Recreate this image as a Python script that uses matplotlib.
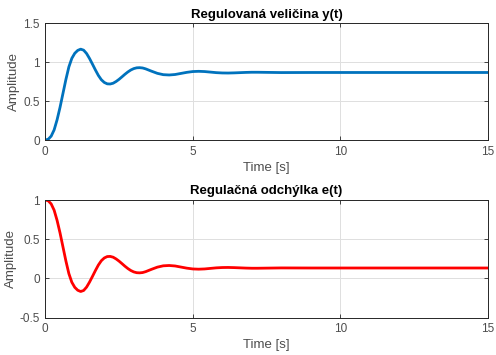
"""
Step response of the control loop: controlled variable y(t) and control error e(t).
"""

import matplotlib
matplotlib.use('Agg')
import matplotlib.pyplot as plt

# time axis [s]
time_s = [0.0, 0.1, 0.2, 0.3, 0.4, 0.5, 0.6, 0.7, 0.8, 0.9,
          1.0, 1.1, 1.2, 1.3, 1.4, 1.5, 1.6, 1.7, 1.8, 1.9,
          2.0, 2.1, 2.2, 2.3, 2.4, 2.5, 2.6, 2.7, 2.8, 2.9,
          3.0, 3.1, 3.2, 3.3, 3.4, 3.6, 3.8, 4.0, 4.2, 4.4,
          4.6, 4.8, 5.0, 5.2, 5.4, 5.6, 5.8, 6.0, 6.2, 6.4,
          6.6, 6.8, 7.0, 7.2, 7.6, 8.0, 9.0, 10.0, 12.0, 15.0]

# controlled variable y(t)
y_vals = [0.000, 0.010, 0.050, 0.130, 0.260, 0.420, 0.600, 0.780, 0.940, 1.050,
          1.115, 1.152, 1.168, 1.155, 1.112, 1.048, 0.975, 0.900, 0.830, 0.775,
          0.740, 0.722, 0.720, 0.730, 0.752, 0.780, 0.812, 0.845, 0.875, 0.900,
          0.918, 0.928, 0.930, 0.926, 0.915, 0.885, 0.857, 0.840, 0.836, 0.842,
          0.856, 0.870, 0.880, 0.883, 0.880, 0.873, 0.866, 0.862, 0.861, 0.863,
          0.866, 0.869, 0.871, 0.871, 0.869, 0.867, 0.868, 0.868, 0.868, 0.868]

# control error e(t)
e_vals = [1.000, 0.990, 0.950, 0.870, 0.740, 0.580, 0.400, 0.220, 0.060, -0.050,
          -0.115, -0.152, -0.168, -0.155, -0.112, -0.048, 0.025, 0.100, 0.170, 0.225,
          0.260, 0.278, 0.280, 0.270, 0.248, 0.220, 0.188, 0.155, 0.125, 0.100,
          0.082, 0.072, 0.070, 0.074, 0.085, 0.115, 0.143, 0.160, 0.164, 0.158,
          0.144, 0.130, 0.120, 0.117, 0.120, 0.127, 0.134, 0.138, 0.139, 0.137,
          0.134, 0.131, 0.129, 0.129, 0.131, 0.133, 0.132, 0.132, 0.132, 0.132]

x_ticks = [0, 5, 10, 15]
y_ticks_top = [0, 0.5, 1, 1.5]
y_ticks_bottom = [-0.5, 0, 0.5, 1]

plt.rcParams['font.family'] = ['Liberation Sans', 'DejaVu Sans']

AX_COLOR = '#262626'
TICK_COLOR = '#4d4d4d'


def style_axes(ax, yticks, ylim):
    ax.set_xlim(0, 15)
    ax.set_ylim(*ylim)
    ax.set_xticks(x_ticks)
    ax.set_yticks(yticks)
    ax.set_xticklabels([f'{v:g}' for v in x_ticks])
    ax.set_yticklabels([f'{v:g}' for v in yticks])
    ax.grid(True, color='#dfdfdf', linewidth=0.7)
    ax.set_axisbelow(True)
    ax.tick_params(direction='in', length=3, width=0.6, top=True, right=True,
                   labelsize=8.5, colors=AX_COLOR, labelcolor=TICK_COLOR, pad=4)
    for sp in ax.spines.values():
        sp.set_color(AX_COLOR)
        sp.set_linewidth(0.7)
    ax.set_xlabel('Time [s]', fontsize=9.5, color=TICK_COLOR, labelpad=3)
    ax.set_ylabel('Amplitude', fontsize=9.5, color=TICK_COLOR, labelpad=2)


fig = plt.figure(figsize=(4.96, 3.55), dpi=100)
ax1 = fig.add_axes([0.0913, 0.6056, 0.892, 0.3287])
ax2 = fig.add_axes([0.0913, 0.1056, 0.892, 0.3310])

ax1.plot(time_s, y_vals, color='#0072BD', linewidth=2.0)
style_axes(ax1, y_ticks_top, (0, 1.5))
ax1.set_title('Regulovaná veličina y(t)', fontsize=9.5, fontweight='bold', pad=4)

ax2.plot(time_s, e_vals, color='#FF0000', linewidth=2.0)
style_axes(ax2, y_ticks_bottom, (-0.5, 1))
ax2.set_title('Regulačná odchýlka e(t)', fontsize=9.5, fontweight='bold', pad=4)

fig.savefig('out.png', dpi=100)
plt.close(fig)
